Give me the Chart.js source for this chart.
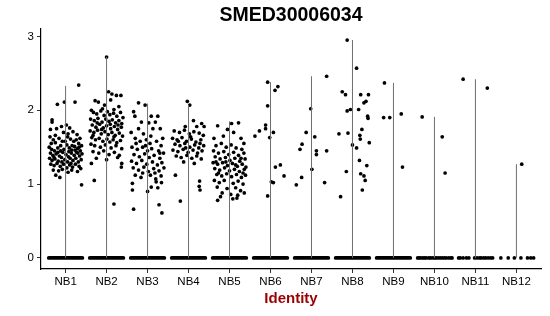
<!DOCTYPE html>
<html>
<head>
<meta charset="utf-8">
<script src="https://cdn.jsdelivr.net/npm/chart.js@4"></script>
<style>
  html, body { margin: 0; padding: 0; background: #fff; }
  canvas { display: block; }
</style>
</head>
<body>
<canvas id="vln" width="550" height="316"></canvas>
<script>
const categories = ['NB1', 'NB2', 'NB3', 'NB4', 'NB5', 'NB6', 'NB7', 'NB8', 'NB9', 'NB10', 'NB11', 'NB12'];
const yTicks = [0, 1, 2, 3];

// top of each (very thin) violin
const violinMax = [2.33, 2.72, 2.09, 2.07, 1.85, 2.38, 2.46, 2.95, 2.37, 1.91, 2.42, 1.27];

// groups whose zero values form a solid band
const zeroBandGroups = [1, 2, 3, 4, 5, 6, 7, 8, 9];
const zeroBandHalf = 0.41;

// sparse zero points (x jitter) for the small groups
const nb10Zeros = [-0.41, -0.37, -0.33, -0.28, -0.24, -0.2, -0.14, -0.1, -0.05, 0, 0.04, 0.09, 0.14, 0.19, 0.24, 0.29, 0.35, 0.4, 0.43];
const nb11Zeros = [-0.41, -0.37, -0.3, -0.22, -0.16, -0.02, 0.04, 0.1, 0.14, 0.2, 0.25, 0.31, 0.37, 0.42];
const nb12Zeros = [-0.38, -0.2, -0.05, 0.11, 0.27, 0.35, 0.42];

// non-zero expression values: [x jitter, value]
const nb1Values = [
  [0.32,2.34],[-0.20,2.08],[-0.03,2.11],[0.23,2.11],[-0.33,1.87],[-0.33,1.84],[-0.37,1.74],[-0.22,1.75],[-0.10,1.78],[0.02,1.80],[0.10,1.76],[0.18,1.71],[0.28,1.67],[0.35,1.62],[-0.05,1.70],
  [-0.38,1.64],[-0.30,1.60],[-0.25,1.56],[-0.16,1.62],[-0.08,1.58],[0.05,1.64],[0.12,1.61],[0.20,1.58],[0.26,1.60],[0.32,1.55],[0.39,1.52],
  [-0.40,1.50],[-0.34,1.47],[-0.27,1.45],[-0.19,1.49],[-0.12,1.52],[-0.04,1.47],[0.03,1.53],[0.09,1.49],[0.15,1.46],[0.22,1.51],[0.29,1.48],[0.36,1.45],
  [-0.37,1.42],[-0.31,1.39],[-0.23,1.41],[-0.15,1.38],[-0.07,1.43],[0.01,1.40],[0.07,1.37],[0.14,1.42],[0.21,1.39],[0.27,1.43],[0.34,1.38],[0.40,1.41],
  [-0.39,1.35],[-0.33,1.32],[-0.26,1.34],[-0.18,1.31],[-0.10,1.36],[-0.02,1.33],[0.05,1.30],[0.11,1.35],[0.18,1.32],[0.25,1.35],[0.31,1.30],[0.38,1.33],
  [-0.36,1.27],[-0.28,1.25],[-0.21,1.28],[-0.13,1.24],[-0.05,1.27],[0.03,1.22],[0.10,1.26],[0.17,1.23],[0.24,1.27],[0.33,1.24],
  [-0.30,1.19],[-0.17,1.18],[-0.08,1.20],[0.06,1.16],[0.15,1.19],[0.29,1.17],[0.37,1.21],
  [-0.14,1.09],[0.39,0.99],[-0.24,1.12],
  [-0.35,1.55],[-0.12,1.45],[0.08,1.44],[0.30,1.42],[-0.28,1.36],[0.13,1.28],[-0.19,1.43],[0.23,1.46],[-0.01,1.58],[0.16,1.52],[-0.25,1.66],[0.06,1.68],[0.33,1.50],[-0.09,1.30]
];
const nb2Values = [
  [0.00,2.72],[0.05,2.25],[0.13,2.22],[0.24,2.20],[0.35,2.20],[-0.28,2.13],[-0.20,2.11],[-0.37,2.00],[0.10,2.14],[-0.05,2.07],[0.30,2.05],
  [-0.32,1.97],[-0.24,1.95],[-0.14,1.99],[-0.06,1.93],[0.02,1.98],[0.08,1.94],[0.17,1.96],[0.25,1.92],[0.34,1.97],[0.40,1.90],
  [-0.39,1.88],[-0.30,1.86],[-0.21,1.89],[-0.11,1.84],[-0.02,1.88],[0.06,1.85],[0.14,1.87],[0.22,1.83],[0.30,1.86],[0.37,1.82],
  [-0.35,1.80],[-0.26,1.77],[-0.17,1.81],[-0.08,1.76],[0.00,1.79],[0.10,1.75],[0.19,1.78],[0.27,1.74],[0.36,1.77],
  [-0.40,1.72],[-0.31,1.70],[-0.22,1.73],[-0.13,1.68],[-0.04,1.71],[0.04,1.67],[0.13,1.70],[0.21,1.66],[0.31,1.69],[0.39,1.65],
  [-0.36,1.63],[-0.27,1.60],[-0.18,1.62],[-0.09,1.58],[0.01,1.61],[0.08,1.57],[0.16,1.60],[0.25,1.56],[0.34,1.59],
  [-0.38,1.54],[-0.29,1.52],[-0.15,1.50],[-0.03,1.53],[0.11,1.49],[0.23,1.52],[0.37,1.48],
  [-0.33,1.44],[-0.19,1.42],[-0.07,1.45],[0.06,1.40],[0.19,1.43],[0.31,1.39],
  [-0.25,1.35],[0.00,1.33],[0.27,1.36],[-0.37,1.28],[0.37,1.28],[0.36,1.23],[-0.30,1.05],[0.18,0.73],
  [-0.10,2.02],[0.18,2.01],[-0.23,1.83],[0.09,1.81],[-0.12,1.74],[0.28,1.80],[-0.33,1.66],[0.18,1.64]
];
const nb3Values = [
  [-0.22,2.10],[-0.06,2.07],[-0.34,1.98],[-0.31,1.92],[0.25,1.92],[0.09,1.92],[-0.15,1.84],[0.03,1.83],[0.19,1.84],[-0.40,1.70],[-0.22,1.75],[-0.10,1.68],[0.13,1.75],[0.31,1.75],[0.37,1.62],
  [-0.30,1.62],[-0.18,1.58],[-0.03,1.60],[0.06,1.55],[0.22,1.58],[0.33,1.52],
  [-0.38,1.50],[-0.25,1.47],[-0.12,1.50],[0.00,1.45],[0.10,1.48],[0.27,1.45],[0.39,1.42],
  [-0.33,1.40],[-0.20,1.37],[-0.07,1.41],[0.04,1.36],[0.16,1.39],[0.30,1.35],
  [-0.39,1.31],[-0.27,1.28],[-0.14,1.32],[-0.02,1.27],[0.12,1.30],[0.24,1.26],[0.35,1.29],
  [-0.35,1.22],[-0.22,1.19],[-0.09,1.23],[0.02,1.17],[0.15,1.21],[0.28,1.18],[0.40,1.22],
  [-0.30,1.12],[-0.16,1.09],[0.07,1.12],[0.20,1.07],[0.33,1.11],
  [-0.37,1.01],[-0.37,0.92],[0.00,0.90],[0.09,0.96],[0.21,1.03],[0.25,0.95],[0.34,1.02],[0.28,0.72],[0.35,0.61],[-0.34,0.66],
  [-0.05,1.52],[0.18,1.15],[-0.28,1.55],[0.08,1.65],[-0.12,1.15],[0.30,1.42]
];
const nb4Values = [
  [-0.03,2.12],[0.03,2.07],[0.12,1.86],[0.32,1.82],[-0.08,1.78],[0.20,1.78],[0.38,1.78],
  [-0.35,1.72],[-0.22,1.70],[-0.10,1.73],[0.02,1.68],[0.13,1.71],[0.26,1.69],[0.36,1.66],
  [-0.39,1.62],[-0.28,1.60],[-0.16,1.63],[-0.05,1.58],[0.07,1.61],[0.18,1.57],[0.30,1.60],
  [-0.33,1.54],[-0.21,1.52],[-0.09,1.55],[0.03,1.50],[0.15,1.53],[0.25,1.49],[0.37,1.52],
  [-0.38,1.46],[-0.26,1.44],[-0.13,1.47],[-0.01,1.43],[0.11,1.46],[0.22,1.42],[0.33,1.45],
  [-0.30,1.38],[-0.18,1.36],[-0.04,1.39],[0.08,1.35],[0.20,1.38],[0.31,1.34],
  [-0.12,1.30],[0.14,1.28],[-0.32,1.12],[0.27,1.04],[0.26,0.97],[0.28,0.92],[-0.20,0.77],
  [-0.25,1.58],[0.05,1.64],[-0.07,1.49],[0.28,1.55]
];
const nb5Values = [
  [-0.29,1.79],[0.05,1.82],[0.22,1.83],[-0.05,1.74],[0.10,1.70],[-0.38,1.62],[-0.15,1.65],[0.28,1.62],[0.35,1.55],
  [-0.33,1.52],[-0.20,1.55],[-0.08,1.50],[0.04,1.53],[0.16,1.49],[0.30,1.47],
  [-0.39,1.45],[-0.27,1.42],[-0.14,1.44],[-0.02,1.40],[0.10,1.43],[0.22,1.39],[0.35,1.42],
  [-0.35,1.37],[-0.23,1.34],[-0.10,1.36],[0.01,1.32],[0.13,1.35],[0.25,1.31],[0.38,1.34],
  [-0.40,1.29],[-0.29,1.27],[-0.17,1.29],[-0.05,1.25],[0.07,1.28],[0.19,1.24],[0.31,1.27],[0.40,1.23],
  [-0.36,1.21],[-0.24,1.19],[-0.12,1.22],[0.00,1.18],[0.12,1.20],[0.24,1.17],[0.36,1.20],
  [-0.31,1.13],[-0.19,1.11],[-0.07,1.14],[0.05,1.10],[0.17,1.13],[0.29,1.09],[0.39,1.12],
  [-0.37,1.05],[-0.25,1.02],[-0.13,1.05],[0.09,1.01],[0.21,1.04],[0.33,1.00],
  [-0.30,0.96],[-0.06,0.94],[0.15,0.95],[0.27,0.91],[-0.18,0.88],[0.03,0.86],[0.20,0.85],[0.36,0.88],
  [-0.29,0.78],[0.08,0.80],[0.18,0.81],[-0.22,0.83],
  [-0.33,1.30],[0.28,1.35],[-0.09,1.30],[0.15,1.26],[-0.27,1.15],[0.33,1.15]
];
const nb6Values = [
  [-0.07,2.38],[0.11,2.27],[0.18,2.32],[-0.07,2.06],[-0.12,1.80],[-0.12,1.75],[-0.27,1.72],[-0.38,1.65],
  [0.07,1.70],[-0.02,1.63],[0.12,1.23],[0.24,1.26],[0.33,1.11],[0.02,1.03],[0.07,1.02],[-0.07,0.84]
];
const nb7Values = [
  [0.37,2.46],[-0.02,2.02],[-0.13,1.70],[0.08,1.64],[-0.23,1.54],[-0.28,1.47],[0.12,1.45],[0.12,1.40],
  [0.37,1.45],[0.01,1.20],[-0.24,1.09],[-0.37,0.99],[0.32,1.02]
];
const nb8Values = [
  [-0.13,2.95],[0.10,2.57],[-0.25,2.25],[-0.17,2.21],[0.20,2.21],[0.39,2.21],[0.33,2.12],[0.28,2.10],
  [-0.13,1.99],[-0.05,2.01],[0.15,2.01],[0.37,1.92],[0.38,1.89],[0.23,1.74],[-0.33,1.68],[-0.11,1.69],
  [0.18,1.66],[0.19,1.61],[0.41,1.56],[0.00,1.53],[0.10,1.49],[0.17,1.32],[0.35,1.25],[-0.15,1.17],
  [0.20,1.14],[0.28,1.11],[0.31,1.05],[0.24,0.92],[-0.29,0.83]
];
const nb9Values = [[-0.22,2.37],[-0.24,1.90],[-0.09,1.90],[0.19,1.95],[0.22,1.23]];
const nb10Values = [[-0.30,1.91],[0.19,1.64],[0.26,1.15]];
const nb11Values = [[-0.30,2.42],[0.29,2.30]];
const nb12Values = [[0.13,1.27]];

const groupValues = [nb1Values, nb2Values, nb3Values, nb4Values, nb5Values, nb6Values,
  nb7Values, nb8Values, nb9Values, nb10Values, nb11Values, nb12Values];
const sparseZeros = { 10: nb10Zeros, 11: nb11Zeros, 12: nb12Zeros };

const violinData = [];
violinMax.forEach((top, i) => {
  violinData.push({ x: i + 1, y: 0 }, { x: i + 1, y: top }, { x: i + 1, y: null });
});

const bandData = [];
zeroBandGroups.forEach((g) => {
  bandData.push({ x: g - zeroBandHalf, y: 0 }, { x: g + zeroBandHalf, y: 0 }, { x: g, y: null });
});

const pointData = [];
groupValues.forEach((vals, i) => {
  for (const [dx, v] of vals) pointData.push({ x: i + 1 + dx, y: v });
});
for (const g of Object.keys(sparseZeros)) {
  for (const dx of sparseZeros[g]) pointData.push({ x: Number(g) + dx, y: 0 });
}

const fontFamily = '"Liberation Sans", Arial, Helvetica, sans-serif';

new Chart(document.getElementById('vln'), {
  type: 'scatter',
  data: {
    datasets: [
      {
        data: violinData,
        showLine: true,
        spanGaps: false,
        borderColor: '#6e6e6e',
        borderWidth: 1,
        pointRadius: 0,
      },
      {
        data: bandData,
        showLine: true,
        spanGaps: false,
        borderColor: '#000',
        borderWidth: 3.8,
        borderCapStyle: 'round',
        pointRadius: 0,
      },
      {
        data: pointData,
        backgroundColor: '#000',
        borderWidth: 0,
        pointRadius: 1.85,
      },
    ],
  },
  options: {
    responsive: false,
    animation: false,
    devicePixelRatio: 1,
    layout: { padding: { left: 0, right: 9, top: 0, bottom: 0 } },
    plugins: {
      legend: { display: false },
      tooltip: { enabled: false },
      title: {
        display: true,
        fullSize: false,
        text: 'SMED30006034',
        color: '#000',
        font: { family: fontFamily, size: 19.5, weight: 'bold' },
        padding: { top: 4, bottom: 1.6 },
      },
    },
    scales: {
      x: {
        type: 'linear',
        min: 0.4,
        max: 12.6,
        afterFit: (scale) => { scale.height = 47; },
        afterBuildTicks: (scale) => {
          scale.ticks = categories.map((c, i) => ({ value: i + 1 }));
        },
        ticks: {
          autoSkip: false,
          maxRotation: 0,
          padding: 2,
          color: '#000',
          font: { family: fontFamily, size: 11.5 },
          callback: (v) => categories[v - 1],
        },
        grid: { display: true, drawOnChartArea: false, drawTicks: true, tickLength: 4, color: '#333' },
        border: { display: true, color: '#000', width: 1.2 },
        title: {
          display: true,
          text: 'Identity',
          color: '#9a0000',
          font: { family: fontFamily, size: 15, weight: 'bold' },
          padding: { top: 0, bottom: 8 },
        },
      },
      y: {
        min: -0.15,
        max: 3.1,
        afterFit: (scale) => { scale.width = 41; },
        afterBuildTicks: (scale) => {
          scale.ticks = yTicks.map((v) => ({ value: v }));
        },
        ticks: {
          padding: 3,
          color: '#000',
          font: { family: fontFamily, size: 11.5 },
        },
        grid: { display: true, drawOnChartArea: false, drawTicks: true, tickLength: 4, color: '#333' },
        border: { display: true, color: '#000', width: 1.2 },
      },
    },
  },
});
</script>
</body>
</html>
